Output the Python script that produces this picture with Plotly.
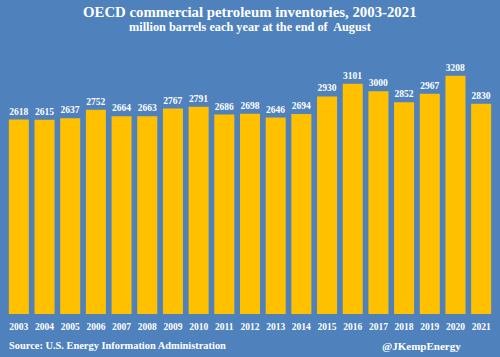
import plotly.graph_objects as go

years = [str(y) for y in range(2003, 2022)]
values = [2618, 2615, 2637, 2752, 2664, 2663, 2767, 2791, 2686, 2698,
          2646, 2694, 2930, 3101, 3000, 2852, 2967, 3208, 2830]

bg = "#4F81BD"
bar_color = "#FFC000"
font_family = "Liberation Serif, DejaVu Serif, serif"

fig = go.Figure(go.Bar(
    x=years, y=values,
    marker=dict(color=bar_color, line=dict(width=0)),
    text=[str(v) for v in values],
    textposition="outside",
    textfont=dict(color="white", size=9.5, family=font_family, weight="bold"),
    cliponaxis=False,
))

pl, pr, pt, pb = 6, 494, 40, 314
fig.update_layout(
    width=500, height=357,
    paper_bgcolor=bg, plot_bgcolor=bg,
    margin=dict(l=pl, r=500 - pr, t=pt, b=357 - pb, pad=0),
    bargap=0.22,
    showlegend=False,
    font=dict(family=font_family, color="white"),
    xaxis=dict(type="category", showgrid=False, zeroline=False, showline=False,
               tickfont=dict(size=9.5, color="white", family=font_family, weight="bold"),
               ticks="", ticklabelstandoff=5, automargin=False),
    yaxis=dict(range=[0, 3690], visible=False, automargin=False),
)


def add_text_c(text, px, py, size, anchor="center"):
    fig.add_annotation(text=text, x=(px - pl) / (pr - pl), y=(pb - py) / (pb - pt),
                       xref="paper", yref="paper", showarrow=False,
                       xanchor=anchor, yanchor="middle",
                       font=dict(size=size, color="white", family=font_family))


add_text_c("<b>OECD commercial petroleum inventories, 2003-2021</b>", 250, 12, 14.8)
add_text_c("<b>million barrels each year at the end of  August</b>", 250, 27, 12.3)
add_text_c("<b>Source: U.S. Energy Information Administration</b>", 7, 345, 10.4, "left")
add_text_c("<b>@JKempEnergy</b>", 463, 346, 11, "right")

fig.write_html("out.html", config={"displayModeBar": False})
with open("out.html", "r", encoding="utf-8") as f:
    html = f.read()
html = html.replace("<head>", "<head><style>html,body{margin:0;padding:0;overflow:hidden;}</style>", 1)
with open("out.html", "w", encoding="utf-8") as f:
    f.write(html)
